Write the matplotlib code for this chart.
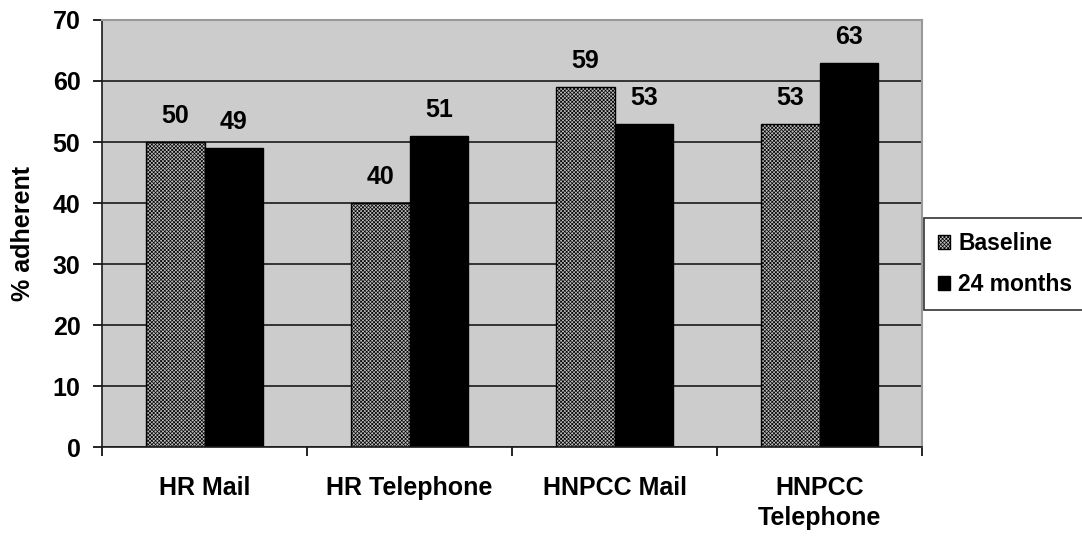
import matplotlib

matplotlib.use("Agg")

import matplotlib.pyplot as plt
import numpy as np

plt.rcParams["font.family"] = ["Liberation Sans", "DejaVu Sans"]
plt.rcParams["font.weight"] = "bold"
plt.rcParams["hatch.color"] = "#8a8a8a"
plt.rcParams["hatch.linewidth"] = 0.5

CATEGORIES = ["HR Mail", "HR Telephone", "HNPCC Mail", "HNPCC\nTelephone"]
BASELINE = [50, 40, 59, 53]
MONTHS_24 = [49, 51, 53, 63]
SERIES_NAMES = ["Baseline", "24 months"]
Y_TICKS = [0, 10, 20, 30, 40, 50, 60, 70]

FONT_SIZE = 18


def main() -> int:
    fig = plt.figure(figsize=(10.82, 5.4), dpi=100)
    axis = fig.add_axes((0.0943, 0.172, 0.758, 0.791))

    x = np.arange(len(CATEGORIES))
    width = 0.285

    axis.set_facecolor("#cccccc")
    axis.set_axisbelow(True)
    axis.yaxis.grid(True, color="#1a1a1a", linewidth=1.2)

    base_bars = axis.bar(
        x - width / 2,
        BASELINE,
        width,
        facecolor="#bdbdbd",
        edgecolor="black",
        hatch="xxxxxxxxx",
        linewidth=1.0,
        label=SERIES_NAMES[0],
    )
    late_bars = axis.bar(
        x + width / 2,
        MONTHS_24,
        width,
        color="black",
        edgecolor="black",
        linewidth=1.0,
        label=SERIES_NAMES[1],
    )

    for bars in (base_bars, late_bars):
        for bar in bars:
            axis.annotate(
                f"{bar.get_height():g}",
                (bar.get_x() + bar.get_width() / 2, bar.get_height()),
                xytext=(0, 10),
                textcoords="offset points",
                ha="center",
                va="bottom",
                fontsize=FONT_SIZE,
                fontweight="bold",
            )

    axis.set_xlim(-0.5, len(CATEGORIES) - 0.5)
    axis.set_ylim(0, 70)
    axis.set_yticks(Y_TICKS)

    # group separators as major ticks, names centred under each group
    axis.set_xticks(np.arange(len(CATEGORIES) + 1) - 0.5)
    axis.set_xticklabels([])
    axis.set_xticks(x, minor=True)
    axis.set_xticklabels(CATEGORIES, minor=True, fontsize=FONT_SIZE,
                         fontweight="bold", linespacing=1.3)
    axis.tick_params(axis="x", which="minor", length=0, pad=21)
    axis.tick_params(axis="x", which="major", length=6.5, direction="out",
                     width=1.2)
    axis.tick_params(axis="y", length=6.5, width=1.2, labelsize=FONT_SIZE,
                     pad=9)
    for label in axis.get_yticklabels():
        label.set_fontweight("bold")

    for side in ("top", "right"):
        axis.spines[side].set_color("#999999")
        axis.spines[side].set_linewidth(1.5)
    for side in ("left", "bottom"):
        axis.spines[side].set_color("#1a1a1a")
        axis.spines[side].set_linewidth(1.2)

    axis.set_ylabel("% adherent", fontsize=FONT_SIZE, fontweight="bold",
                    labelpad=13)

    legend = fig.legend(
        handles=[base_bars, late_bars],
        labels=SERIES_NAMES,
        loc="upper left",
        bbox_to_anchor=(924 / 1082, 1 - 218 / 540),
        frameon=True,
        fancybox=False,
        edgecolor="black",
        prop={"size": 16.5, "weight": "bold"},
        handlelength=0.55,
        handleheight=0.55,
        handletextpad=0.35,
        labelspacing=0.8,
        borderpad=0.6,
        borderaxespad=0,
    )
    legend.get_frame().set_linewidth(1.2)

    fig.savefig("out.png", dpi=100)
    plt.close(fig)
    return 0


if __name__ == "__main__":
    raise SystemExit(main())
